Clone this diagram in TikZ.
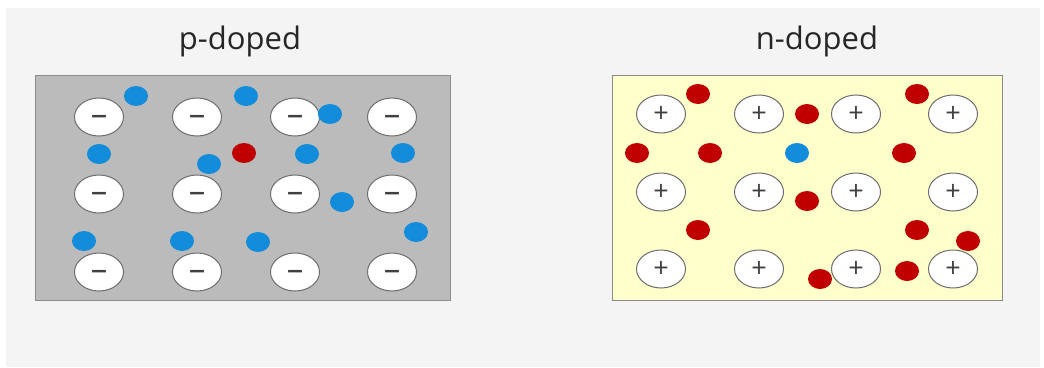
\documentclass[tikz,border=0pt]{standalone}
\usepackage{fontspec}
\setmainfont{Open Sans}
\usetikzlibrary{shapes.geometric}
\definecolor{pagebg}{HTML}{F4F4F4}
\definecolor{pfill}{HTML}{BBBBBB}
\definecolor{nfill}{HTML}{FFFFCC}
\definecolor{framec}{HTML}{8C8C8C}
\definecolor{ionline}{HTML}{6E6E6E}
\definecolor{holeblue}{HTML}{128CDB}
\definecolor{elecred}{HTML}{C00000}
\definecolor{signc}{HTML}{404040}
\definecolor{titlec}{HTML}{262626}
\tikzset{
  ion/.style={ellipse, draw=ionline, line width=1pt, fill=white,
    minimum width=49pt, minimum height=38pt, inner sep=0pt, text=signc},
  acceptor/.style={ion, font=\fontsize{33}{33}\selectfont,
    text height=17pt, text depth=0pt},
  donor/.style={ion, font=\fontsize{27}{27}\selectfont},
  hole/.style={ellipse, fill=holeblue, minimum width=24pt, minimum height=20pt, inner sep=0pt},
  electron/.style={ellipse, fill=elecred, minimum width=24pt, minimum height=20pt, inner sep=0pt},
  title/.style={text=titlec, font=\fontsize{31}{31}\selectfont, inner sep=0pt},
  slab/.style={draw=framec, line width=1pt}
}
\begin{document}
\begin{tikzpicture}[x=1pt, y=-1pt]
  \useasboundingbox (0,0) rectangle (1044,367);
  \fill[white] (0,0) rectangle (1044,367);
  \fill[pagebg] (6,8) rectangle (1040,367);

  % p-doped slab
  \node[title] (ptitle) at (240,41) {p-doped};
  \draw[slab, fill=pfill] (35,75) rectangle (450,300);
  \foreach \c/\x in {1/99,2/197,3/295,4/392}{
    \foreach \r/\y in {1/117,2/194,3/272}{
      \node[acceptor] (pion\c\r) at (\x,\y) {–};
    }
  }
  \foreach \i/\x/\y in {1/136/96, 2/246/96, 3/330/114, 4/99/154, 5/209/164,
                        7/307/154, 8/403/153, 9/342/202, 10/84/241,
                        11/182/241, 12/258/242, 13/416/232}{
    \node[hole] (ph\i) at (\x,\y) {};
  }
  \node[electron] (pe1) at (244,153) {};

  % n-doped slab
  \node[title] (ntitle) at (817,41) {n-doped};
  \draw[slab, fill=nfill] (612,75) rectangle (1002,300);
  \foreach \c/\x in {1/661,2/759,3/856,4/953}{
    \foreach \r/\y in {1/114,2/192,3/269}{
      \node[donor] (nion\c\r) at (\x,\y) {+};
    }
  }
  \foreach \i/\x/\y in {1/698/94, 2/807/114, 3/917/94, 4/637/153, 5/710/153,
                        7/904/153, 8/807/201, 9/698/230, 10/917/230,
                        11/968/241, 12/820/279, 13/907/271}{
    \node[electron] (ne\i) at (\x,\y) {};
  }
  \node[hole] (nh1) at (797,153) {};
\end{tikzpicture}
\end{document}
